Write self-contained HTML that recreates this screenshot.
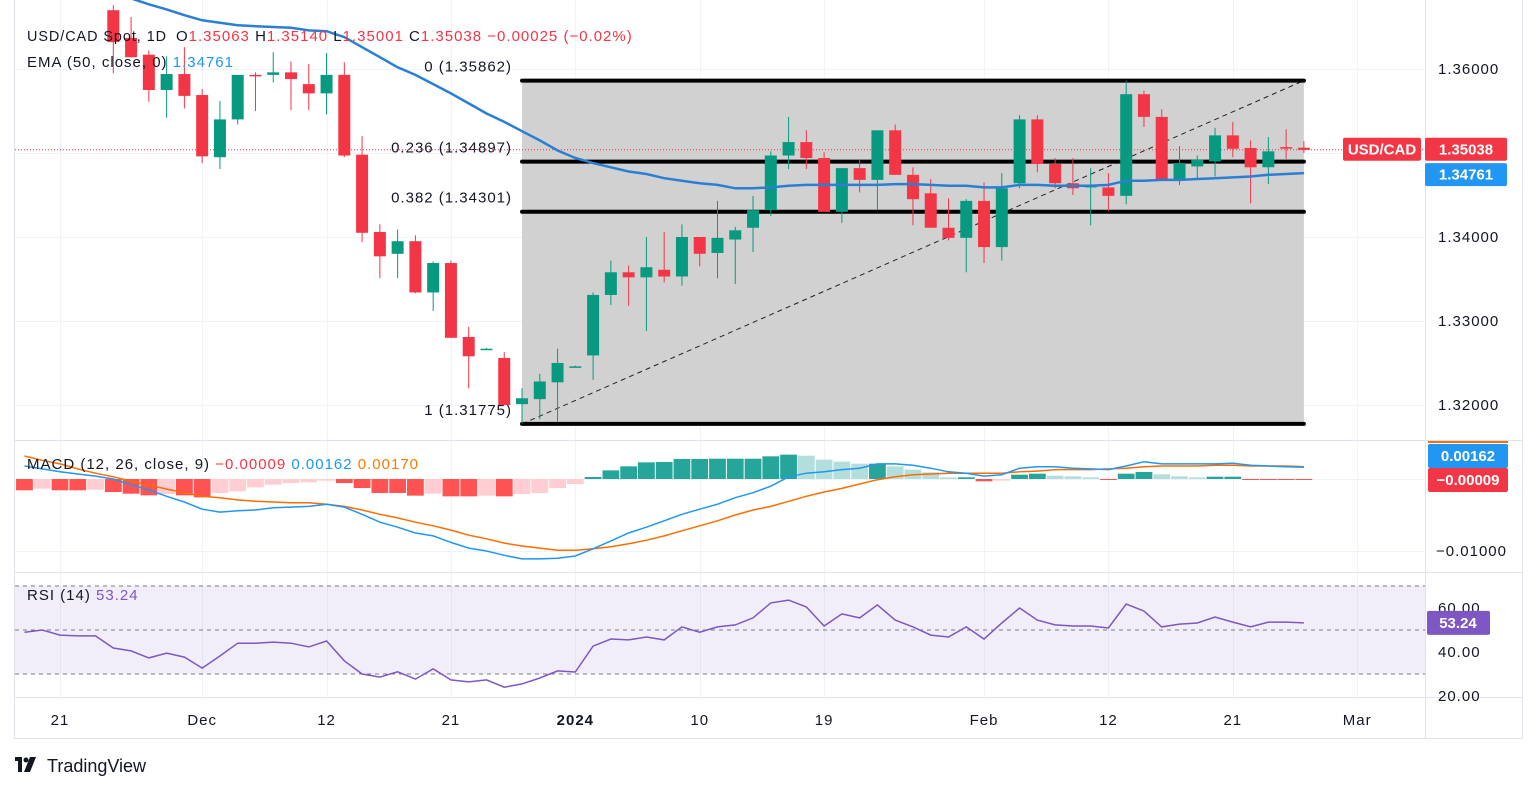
<!DOCTYPE html>
<html><head><meta charset="utf-8">
<style>
html,body{margin:0;padding:0;background:#fff;}
svg{display:block;font-family:"Liberation Sans",sans-serif;}
.ls{letter-spacing:1px;}
</style></head>
<body>
<svg id="chart" width="1536" height="790" viewBox="0 0 1536 790" xmlns="http://www.w3.org/2000/svg">
<defs>
<clipPath id="clipMain"><rect x="15" y="0" width="1410" height="440"/></clipPath>
<clipPath id="clipMacd"><rect x="15" y="441" width="1410" height="131"/></clipPath>
<clipPath id="clipRsi"><rect x="15" y="573" width="1410" height="124"/></clipPath>
</defs>
<rect x="0" y="0" width="1536" height="790" fill="#ffffff"/>
<g id="grid"></g>
<g id="fib" clip-path="url(#clipMain)"></g>
<g id="candles" clip-path="url(#clipMain)"></g>
<g id="macd" clip-path="url(#clipMacd)"></g>
<g id="rsi" clip-path="url(#clipRsi)"></g>
<g id="frame">
<line x1="15" y1="440.5" x2="1522" y2="440.5" stroke="#e0e3eb"/>
<line x1="15" y1="572.5" x2="1522" y2="572.5" stroke="#e0e3eb"/>
<line x1="15" y1="697.5" x2="1522" y2="697.5" stroke="#e0e3eb"/>
<line x1="15" y1="738.5" x2="1522" y2="738.5" stroke="#e0e3eb"/>
<line x1="14.5" y1="0" x2="14.5" y2="739" stroke="#e0e3eb"/>
<line x1="1425.5" y1="0" x2="1425.5" y2="739" stroke="#e0e3eb"/>
<line x1="1522.5" y1="0" x2="1522.5" y2="739" stroke="#e0e3eb"/>
</g>
<g id="axes"></g>
<g id="legend" font-size="15" class="ls">
<text x="27" y="41" fill="#131722" textLength="140" lengthAdjust="spacingAndGlyphs">USD/CAD Spot, 1D</text>
<text x="176" y="41" fill="#131722">O<tspan fill="#f23645">1.35063</tspan> H<tspan fill="#f23645">1.35140</tspan> L<tspan fill="#f23645">1.35001</tspan> C<tspan fill="#f23645">1.35038</tspan> <tspan fill="#f23645">−0.00025 (−0.02%)</tspan></text>
<text x="27" y="67" fill="#131722">EMA (50, close, 0) <tspan fill="#2196f3">1.34761</tspan></text>
<text x="27" y="469" fill="#131722">MACD (12, 26, close, 9) <tspan fill="#f23645">−0.00009</tspan> <tspan fill="#2196f3">0.00162</tspan> <tspan fill="#f57c00">0.00170</tspan></text>
<text x="27" y="600" fill="#131722">RSI (14) <tspan fill="#7e57c2">53.24</tspan></text>
</g>
<g>
<rect x="15" y="757" width="7" height="4" fill="#131722"/>
<rect x="18" y="757" width="4" height="15" fill="#131722"/>
<circle cx="26" cy="760" r="2.5" fill="#131722"/>
<polygon points="30,757 36,757 30,772 24,772" fill="#131722"/>
<text x="47" y="772" font-size="18" fill="#131722">TradingView</text>
</g>
</svg>
<script>
// ---- price data (Nov 24 2023 .. Feb 27 2024), first candle at bar index 3 ----
const opens = [1.3670,1.3637,1.3617,1.3575,1.3594,1.3569,1.3495,1.3540,1.3593,1.3593,1.3596,1.3582,1.3571,1.3593,1.3498,1.3406,1.3380,1.3395,1.3334,1.3369,1.3281,1.3267,1.3256,1.3201,1.3207,1.3227,1.3246,1.3259,1.3331,1.3358,1.3352,1.3361,1.3353,1.3400,1.3381,1.3397,1.3411,1.3432,1.3497,1.3513,1.3494,1.3430,1.3482,1.3468,1.3527,1.3474,1.3452,1.3411,1.3399,1.3443,1.3388,1.3464,1.3540,1.3487,1.3464,1.3459,1.3459,1.3449,1.3570,1.3543,1.3468,1.3484,1.3490,1.3521,1.3506,1.3483,1.3507,1.35063];
const highs = [1.3676,1.3662,1.3622,1.3615,1.3626,1.3576,1.3562,1.3593,1.3596,1.3620,1.3609,1.3606,1.3619,1.3608,1.3520,1.3415,1.3409,1.3402,1.3371,1.3372,1.3293,1.3268,1.3263,1.3220,1.3237,1.3267,1.3247,1.3334,1.3372,1.3366,1.3400,1.3406,1.3415,1.3400,1.3443,1.3412,1.3449,1.3502,1.3543,1.3527,1.3501,1.3482,1.3492,1.3527,1.3534,1.3483,1.3469,1.3446,1.3445,1.3465,1.3476,1.3545,1.3545,1.3494,1.3494,1.3482,1.3476,1.3586,1.3574,1.3552,1.3508,1.3497,1.3530,1.3537,1.3515,1.3519,1.3528,1.35140];
const lows = [1.3595,1.3614,1.3561,1.3542,1.3553,1.3488,1.3481,1.3534,1.3550,1.3584,1.3551,1.3551,1.3546,1.3495,1.3394,1.3351,1.3351,1.3333,1.3312,1.3280,1.3220,1.3266,1.3200,1.3178,1.3183,1.3180,1.3245,1.3230,1.3319,1.3318,1.3288,1.3346,1.3342,1.3365,1.3351,1.3344,1.3382,1.3425,1.3481,1.3481,1.3430,1.3417,1.3453,1.3432,1.3474,1.3414,1.3411,1.3396,1.3358,1.3369,1.3372,1.3458,1.3477,1.3458,1.3450,1.3414,1.3431,1.3439,1.3531,1.3468,1.3462,1.3469,1.3472,1.3495,1.3440,1.3463,1.3493,1.35001];
const closes = [1.3632,1.3614,1.3575,1.3594,1.3568,1.3496,1.3540,1.3593,1.3592,1.3596,1.3588,1.3571,1.3593,1.3497,1.3405,1.3377,1.3395,1.3334,1.3369,1.3280,1.3258,1.3267,1.3200,1.3208,1.3228,1.3250,1.3246,1.3331,1.3358,1.3352,1.3364,1.3353,1.3400,1.3380,1.3399,1.3408,1.3432,1.3497,1.3513,1.3494,1.3430,1.3482,1.3468,1.3527,1.3474,1.3445,1.3411,1.3399,1.3443,1.3388,1.3458,1.3540,1.3487,1.3464,1.3458,1.3461,1.3449,1.3570,1.3543,1.3468,1.3488,1.3492,1.3521,1.3505,1.3483,1.3502,1.3506,1.35038];
const ema50 = [1.3692,1.3684,1.3677,1.3671,1.3664,1.3658,1.3655,1.3652,1.3651,1.3650,1.3649,1.3646,1.3645,1.3638,1.3626,1.3614,1.3602,1.3593,1.3582,1.3571,1.3559,1.3547,1.3537,1.3526,1.3515,1.3503,1.3494,1.3488,1.3483,1.3478,1.3475,1.3470,1.3467,1.3464,1.3462,1.3458,1.3458,1.3459,1.3461,1.3462,1.3462,1.3462,1.3462,1.3462,1.3463,1.3463,1.3462,1.3461,1.3461,1.3459,1.3459,1.3462,1.3462,1.3461,1.3461,1.3461,1.3462,1.3467,1.3467,1.3468,1.3468,1.3469,1.3470,1.3471,1.3472,1.3474,1.3475,1.34761];
const priceTicks = [1.36, 1.35, 1.34, 1.33, 1.32];
const priceTickLabels = ["1.36000", "", "1.34000", "1.33000", "1.32000"];
const fibLevels = [0, 0.236, 0.382, 1];
const fibPrices = [1.35862, 1.34897, 1.34301, 1.31775];
const fibLabels = ["0 (1.35862)", "0.236 (1.34897)", "0.382 (1.34301)", "1 (1.31775)"];
// ---- MACD (bar index -2 .. 70) ----
const macdLine = [0.0018,0.0014,0.0010,0.0007,0.0004,0.0000,-0.0008,-0.0015,-0.0024,-0.0032,-0.0042,-0.0046,-0.0044,-0.0043,-0.0040,-0.0039,-0.0038,-0.0035,-0.0039,-0.0049,-0.0060,-0.0067,-0.0075,-0.0079,-0.0088,-0.0096,-0.0100,-0.0106,-0.0111,-0.0111,-0.0110,-0.0107,-0.0097,-0.0086,-0.0075,-0.0067,-0.0058,-0.0049,-0.0042,-0.0035,-0.0026,-0.0019,-0.0010,0.0003,0.0008,0.0010,0.0013,0.0015,0.0021,0.0021,0.0019,0.0015,0.0010,0.0008,0.0004,0.0006,0.0015,0.0017,0.0017,0.0015,0.0014,0.0013,0.0018,0.0024,0.0021,0.0021,0.0021,0.0021,0.0022,0.0019,0.0018,0.0017,0.00162];
const signalLine = [0.0032,0.0026,0.0021,0.0014,0.0008,0.0003,-0.0003,-0.0008,-0.0014,-0.0019,-0.0024,-0.0026,-0.0029,-0.0031,-0.0032,-0.0033,-0.0033,-0.0035,-0.0038,-0.0043,-0.0049,-0.0054,-0.0060,-0.0065,-0.0071,-0.0078,-0.0083,-0.0089,-0.0093,-0.0096,-0.0099,-0.0099,-0.0097,-0.0094,-0.0090,-0.0085,-0.0079,-0.0072,-0.0065,-0.0058,-0.0050,-0.0043,-0.0038,-0.0031,-0.0024,-0.0018,-0.0013,-0.0007,-0.0001,0.0003,0.0006,0.0007,0.0008,0.0008,0.0008,0.0008,0.0010,0.0011,0.0013,0.0013,0.0013,0.0014,0.0015,0.0017,0.0018,0.0018,0.0018,0.0019,0.0019,0.0018,0.0018,0.0018,0.00170];
const histogram = [-0.00157,-0.00134,-0.00157,-0.00157,-0.00148,-0.00181,-0.00204,-0.00227,-0.00208,-0.00227,-0.00255,-0.00194,-0.00171,-0.00116,-0.00079,-0.00056,-0.00046,-0.00023,-0.00056,-0.00125,-0.00194,-0.00194,-0.00231,-0.00204,-0.00241,-0.00241,-0.00231,-0.00241,-0.00208,-0.00194,-0.00125,-0.00069,0.00028,0.0012,0.00176,0.00231,0.00236,0.00278,0.00278,0.00282,0.00282,0.00282,0.00315,0.00338,0.00324,0.00269,0.00241,0.00213,0.00213,0.00176,0.0013,0.00093,0.00023,0.00023,-0.00032,-0.00023,0.0006,0.00074,0.00046,0.00037,0.00023,-0.00009,0.00074,0.00097,0.00065,0.00037,0.00023,0.00032,0.00032,-0.00009,-0.00009,-0.00009,-0.00009];
// ---- RSI (bar index -2 .. 70) ----
const rsiValues = [49,50,47.7,47.3,47.3,41.8,40.5,37.3,39.5,37.7,32.7,38.2,44,44,44.5,44,42.3,45,36,30,28.6,31,27.7,32.3,27.3,26.4,27.3,24,25.5,28.2,31.4,30.9,42.7,45.9,45.5,46.8,45.5,51.4,49,51.4,52.3,55.5,62.3,63.6,60.5,51.8,57.3,55.5,61.4,54.5,51.4,47.7,46.8,51.4,45.9,53.2,60,54.5,52.3,51.8,51.8,50.9,61.8,58.6,51.4,52.7,53.2,55.9,53.6,51.4,53.6,53.6,53.24];
const rsiTicks = [60, 40, 20];
// ---- time axis ----
const timeLabels = ["21","Dec","12","21","2024","10","19","Feb","12","21","Mar"];
const timeLabelBars = [0,8,15,22,29,36,43,52,59,66,73];

const NS = "http://www.w3.org/2000/svg";
function mk(tag, attrs, parent){ const e=document.createElementNS(NS,tag); for(const k in attrs) e.setAttribute(k,attrs[k]); parent.appendChild(e); return e; }
const xBar = i => 60 + 17.77 * i;
const yPrice = p => 69 + (1.36 - p) * 8400;
const yMacd = v => 479 - v * 7200;
const yRsi = v => 630 - (v - 50) * 2.2;
const FIRST = 3, MFIRST = -2;
const G = document.getElementById('grid'), A = document.getElementById('axes');

// grid
timeLabelBars.forEach((b,i)=>{
  const x = Math.round(xBar(b))+0.5;
  const l = mk('line',{x1:x,y1:0,x2:x,y2:697,stroke:'#f0f3fa'},G);
  
  
  const t = mk('text',{x:xBar(b),y:725,'text-anchor':'middle','font-size':15,'class':'ls',fill:'#131722','font-weight':timeLabels[i]==='2024'?'bold':'normal'},A);
  t.textContent = timeLabels[i];
  
  
});
priceTicks.forEach((p,i)=>{
  const y = Math.round(yPrice(p))+0.5;
  const l = mk('line',{x1:15,y1:y,x2:1425,y2:y,stroke:'#f0f3fa'},G);
  
  
  if(priceTickLabels[i]){
    const t = mk('text',{x:1438,y:yPrice(p)+5,'font-size':15,'class':'ls',fill:'#131722'},A);
    t.textContent = priceTickLabels[i];
    
    
  }
});
[yMacd(0), yMacd(-0.01)].forEach(y=>{ const l=mk('line',{x1:15,y1:Math.round(y)+0.5,x2:1425,y2:Math.round(y)+0.5,stroke:'#f0f3fa'},G);   });

// fib
const F = document.getElementById('fib');
const fx1 = xBar(FIRST+23), fx2 = xBar(FIRST+67);
const box = mk('rect',{x:fx1,y:yPrice(fibPrices[0]),width:fx2-fx1,height:yPrice(fibPrices[3])-yPrice(fibPrices[0]),fill:'#d1d1d1'},F);


const tl = mk('line',{x1:fx1,y1:yPrice(fibPrices[3]),x2:fx2,y2:yPrice(fibPrices[0]),stroke:'#222','stroke-width':1,'stroke-dasharray':'5 4'},F);


fibPrices.forEach((p,i)=>{
  const l = mk('line',{x1:fx1,y1:yPrice(p),x2:fx2,y2:yPrice(p),stroke:'#000','stroke-width':4,'stroke-linecap':'round'},F);
  
  
  const t = mk('text',{x:fx1-10,y:yPrice(p)-9,'text-anchor':'end','font-size':15,'class':'ls',fill:'#131722'},F);
  t.textContent = fibLabels[i];
  
  
});

// last price dotted line
const lp = mk('line',{x1:15,y1:yPrice(closes[closes.length-1]),x2:1425,y2:yPrice(closes[closes.length-1]),stroke:'#f23645','stroke-width':1,'stroke-dasharray':'1 2'},document.getElementById('candles'));



// candles
const C = document.getElementById('candles');
closes.forEach((c,i)=>{
  const x = xBar(FIRST+i), o=opens[i];
  const col = c>=o ? '#089981' : '#f23645';
  const w = mk('line',{x1:x,y1:yPrice(highs[i]),x2:x,y2:yPrice(lows[i]),stroke:col,'stroke-width':1},C);
  
  
  const top = yPrice(Math.max(o,c)), bot = yPrice(Math.min(o,c));
  const b = mk('rect',{x:x-6,y:top,width:12,height:Math.max(1.5,bot-top),fill:col},C);
  
  
});
const emaPath = mk('path',{d:ema50.map((v,i)=>(i?'L':'M')+xBar(FIRST+i).toFixed(1)+','+yPrice(v).toFixed(1)).join(''),fill:'none',stroke:'#2a7fd4','stroke-width':2.5},C);



// MACD
const M = document.getElementById('macd');
histogram.forEach((v,i)=>{
  const prev = i>0 ? histogram[i-1] : v;
  let col;
  if(v>=0) col = (v>=prev) ? '#26a69a' : '#b2dfdb';
  else col = (v<=prev) ? '#ff5252' : '#ffcdd2';
  const x = xBar(MFIRST+i);
  const y0 = yMacd(0), y1 = yMacd(v);
  const r = mk('rect',{x:x-8.4,y:Math.min(y0,y1),width:16.8,height:Math.max(1,Math.abs(y1-y0)),fill:col},M);
  
  
});
const sigP = mk('path',{d:signalLine.map((v,i)=>(i?'L':'M')+xBar(MFIRST+i).toFixed(1)+','+yMacd(v).toFixed(1)).join(''),fill:'none',stroke:'#ff6d00','stroke-width':1.5},M);


const macP = mk('path',{d:macdLine.map((v,i)=>(i?'L':'M')+xBar(MFIRST+i).toFixed(1)+','+yMacd(v).toFixed(1)).join(''),fill:'none',stroke:'#2196f3','stroke-width':1.5},M);



// RSI
const R = document.getElementById('rsi');
const band = mk('rect',{x:15,y:yRsi(70),width:1410,height:yRsi(30)-yRsi(70),fill:'#7e57c2','fill-opacity':0.1},R);


[70,50,30].forEach(v=>{ const l=mk('line',{x1:15,y1:yRsi(v),x2:1425,y2:yRsi(v),stroke:'#787b86','stroke-dasharray':'4 4'},R);   });
const rsiP = mk('path',{d:rsiValues.map((v,i)=>(i?'L':'M')+xBar(MFIRST+i).toFixed(1)+','+yRsi(v).toFixed(1)).join(''),fill:'none',stroke:'#7e57c2','stroke-width':1.5},R);


rsiTicks.forEach(v=>{
  const t = mk('text',{x:1438,y:yRsi(v)+5,'font-size':15,'class':'ls',fill:'#131722'},A);
  t.textContent = v.toFixed(2);
  
  
});
const mt = mk('text',{x:1436,y:yMacd(-0.01)+5,'font-size':15,'class':'ls',fill:'#131722'},A);
mt.textContent = '−0.01000';



// tags
function tag(name,x,y,w,h,bg,txt,anchorX){
  const g = mk('g',{},A);
  
  
  mk('rect',{x:x,y:y,width:w,height:h,rx:2,fill:bg},g);
  const t = mk('text',{x:anchorX,y:y+h/2+5,'font-size':15,'font-weight':'bold',fill:'#fff','text-anchor':'middle'},g);
  t.textContent = txt;
}
tag('symbol-tag',1343,yPrice(closes[closes.length-1])-12,78,23,'#f23645','USD/CAD',1382);
tag('last-price-tag',1425,yPrice(closes[closes.length-1])-12,82,23,'#f23645',closes[closes.length-1].toFixed(5),1466);
tag('ema-price-tag',1425,yPrice(ema50[ema50.length-1])-10,82,23,'#2196f3',ema50[ema50.length-1].toFixed(5),1466);
tag('macd-value-tag',1428,444,80,24,'#2196f3',macdLine[macdLine.length-1].toFixed(5),1468);
tag('histogram-value-tag',1428,468,80,24,'#f23645','−'+Math.abs(histogram[histogram.length-1]).toFixed(5),1468);
tag('rsi-value-tag',1427,yRsi(rsiValues[rsiValues.length-1])-12,63,24,'#7e57c2',rsiValues[rsiValues.length-1].toFixed(2),1458);
const ol = mk('line',{x1:1428,y1:442,x2:1508,y2:442,stroke:'#ff6d00','stroke-width':2},A);


</script>
</body></html>
